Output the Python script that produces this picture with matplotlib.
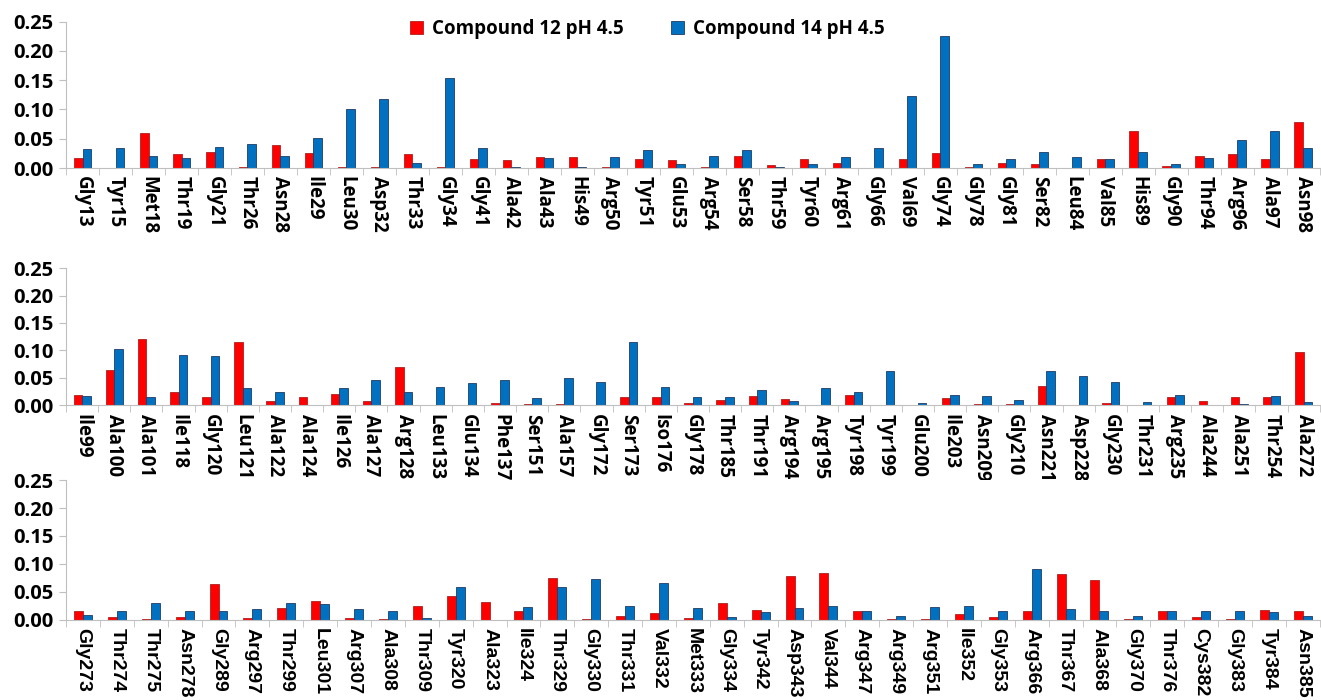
import matplotlib.pyplot as plt
import numpy as np

# residues and values, three rows
res1 = ['Gly13', 'Tyr15', 'Met18', 'Thr19', 'Gly21', 'Thr26', 'Asn28', 'Ile29', 'Leu30', 'Asp32',
        'Thr33', 'Gly34', 'Gly41', 'Ala42', 'Ala43', 'His49', 'Arg50', 'Tyr51', 'Glu53', 'Arg54',
        'Ser58', 'Thr59', 'Tyr60', 'Arg61', 'Gly66', 'Val69', 'Gly74', 'Gly78', 'Gly81', 'Ser82',
        'Leu84', 'Val85', 'His89', 'Gly90', 'Thr94', 'Arg96', 'Ala97', 'Asn98']
c12_1 = [0.017, 0.0, 0.060, 0.024, 0.027, 0.002, 0.040, 0.026, 0.001, 0.001,
         0.024, 0.001, 0.016, 0.014, 0.018, 0.018, 0.001, 0.016, 0.013, 0.001,
         0.020, 0.005, 0.015, 0.008, 0.0, 0.016, 0.026, 0.001, 0.008, 0.006,
         0.0, 0.016, 0.064, 0.003, 0.021, 0.024, 0.016, 0.079]
c14_1 = [0.032, 0.035, 0.021, 0.017, 0.036, 0.041, 0.021, 0.052, 0.101, 0.118,
         0.008, 0.154, 0.035, 0.002, 0.017, 0.001, 0.018, 0.030, 0.007, 0.020,
         0.030, 0.001, 0.006, 0.018, 0.034, 0.123, 0.226, 0.006, 0.016, 0.028,
         0.018, 0.016, 0.027, 0.006, 0.017, 0.047, 0.063, 0.034]

res2 = ['Ile99', 'Ala100', 'Ala101', 'Ile118', 'Gly120', 'Leu121', 'Ala122', 'Ala124', 'Ile126', 'Ala127',
        'Arg128', 'Leu133', 'Glu134', 'Phe137', 'Ser151', 'Ala157', 'Gly172', 'Ser173', 'Iso176', 'Gly178',
        'Thr185', 'Thr191', 'Arg194', 'Arg195', 'Tyr198', 'Tyr199', 'Glu200', 'Ile203', 'Asn209', 'Gly210',
        'Asn221', 'Asp228', 'Gly230', 'Thr231', 'Arg235', 'Ala244', 'Ala251', 'Thr254', 'Ala272']
c12_2 = [0.018, 0.064, 0.121, 0.024, 0.015, 0.115, 0.007, 0.015, 0.021, 0.007,
         0.069, 0.001, 0.001, 0.005, 0.003, 0.002, 0.0, 0.015, 0.015, 0.004,
         0.010, 0.017, 0.011, 0.001, 0.019, 0.001, 0.001, 0.014, 0.002, 0.002,
         0.036, 0.001, 0.005, 0.001, 0.015, 0.007, 0.015, 0.015, 0.097]
c14_2 = [0.017, 0.103, 0.016, 0.092, 0.090, 0.031, 0.024, 0.0, 0.032, 0.046,
         0.025, 0.033, 0.041, 0.047, 0.014, 0.050, 0.042, 0.115, 0.034, 0.015,
         0.015, 0.028, 0.007, 0.031, 0.024, 0.062, 0.005, 0.019, 0.017, 0.009,
         0.062, 0.054, 0.042, 0.006, 0.018, 0.001, 0.002, 0.017, 0.006]

res3 = ['Gly273', 'Thr274', 'Thr275', 'Asn278', 'Gly289', 'Arg297', 'Thr299', 'Leu301', 'Arg307', 'Ala308',
        'Thr309', 'Tyr320', 'Ala323', 'Ile324', 'Thr329', 'Gly330', 'Thr331', 'Val332', 'Met333', 'Gly334',
        'Tyr342', 'Asp343', 'Val344', 'Arg347', 'Arg349', 'Arg351', 'Ile352', 'Gly353', 'Arg366', 'Thr367',
        'Ala368', 'Gly370', 'Thr376', 'Cys382', 'Gly383', 'Tyr384', 'Asn385']
c12_3 = [0.015, 0.004, 0.001, 0.004, 0.064, 0.002, 0.021, 0.034, 0.003, 0.001,
         0.024, 0.043, 0.031, 0.016, 0.075, 0.001, 0.006, 0.011, 0.003, 0.030,
         0.017, 0.078, 0.083, 0.015, 0.001, 0.001, 0.010, 0.004, 0.015, 0.082,
         0.070, 0.001, 0.015, 0.005, 0.001, 0.017, 0.015]
c14_3 = [0.008, 0.016, 0.030, 0.015, 0.016, 0.019, 0.030, 0.028, 0.018, 0.015,
         0.003, 0.059, 0.0, 0.022, 0.059, 0.072, 0.024, 0.066, 0.020, 0.004,
         0.013, 0.020, 0.024, 0.015, 0.007, 0.022, 0.024, 0.015, 0.090, 0.019,
         0.015, 0.007, 0.015, 0.015, 0.015, 0.013, 0.007]

plt.rcParams['font.family'] = ['Open Sans', 'DejaVu Sans']

fig = plt.figure(figsize=(13.21, 7.0), dpi=100)
rows = [(res1, c12_1, c14_1, 0.760, 0.969, 'Open Sans', 13.5),
        (res2, c12_2, c14_2, 0.421, 0.617, 'Open Sans', 13.5),
        (res3, c12_3, c14_3, 0.115, 0.314, 'Liberation Sans', 14)]

w = 0.265
for labels, a, b, y0, y1, fam, fs in rows:
    ax = fig.add_axes([0.050, y0, 0.949, y1 - y0])
    x = np.arange(len(labels))
    ax.bar(x - w / 2, a, w, color='#ff0000', edgecolor='#b02020', linewidth=0.6,
           label='Compound 12 pH 4.5')
    ax.bar(x + w / 2, b, w, color='#0070c0', edgecolor='#1f3b63', linewidth=0.6,
           label='Compound 14 pH 4.5')
    ax.set_xlim(-0.5, len(labels) - 0.5)
    ax.set_ylim(0, 0.25)
    ax.set_yticks(np.arange(0, 0.26, 0.05))
    ax.set_yticklabels(['%.2f' % v for v in np.arange(0, 0.26, 0.05)],
                       fontsize=14.5, fontweight='bold', family='Open Sans')
    ax.set_xticks(x)
    ax.set_xticklabels(labels, rotation=270, fontsize=fs, fontweight='bold', family=fam)
    ax.set_xticks(np.arange(-0.5, len(labels)), minor=True)
    ax.tick_params(axis='x', which='major', length=0, pad=6)
    ax.tick_params(axis='x', which='minor', length=5, color='#bfbfbf', direction='out')
    ax.tick_params(axis='y', length=5, color='#bfbfbf', direction='out', pad=4)
    for s in ['top', 'right']:
        ax.spines[s].set_visible(False)
    ax.spines['left'].set_color('#bfbfbf')
    ax.spines['bottom'].set_color('#bfbfbf')
    if labels is res1:
        handles, names = ax.get_legend_handles_labels()

fig.legend(handles, names, loc='center', bbox_to_anchor=(0.49, 0.958), ncol=2,
           frameon=False, prop={'size': 13.5, 'weight': 'bold', 'family': 'Open Sans'},
           handlelength=0.7, handleheight=0.7, columnspacing=2.5, handletextpad=0.5)

fig.savefig('out.png', dpi=100)
